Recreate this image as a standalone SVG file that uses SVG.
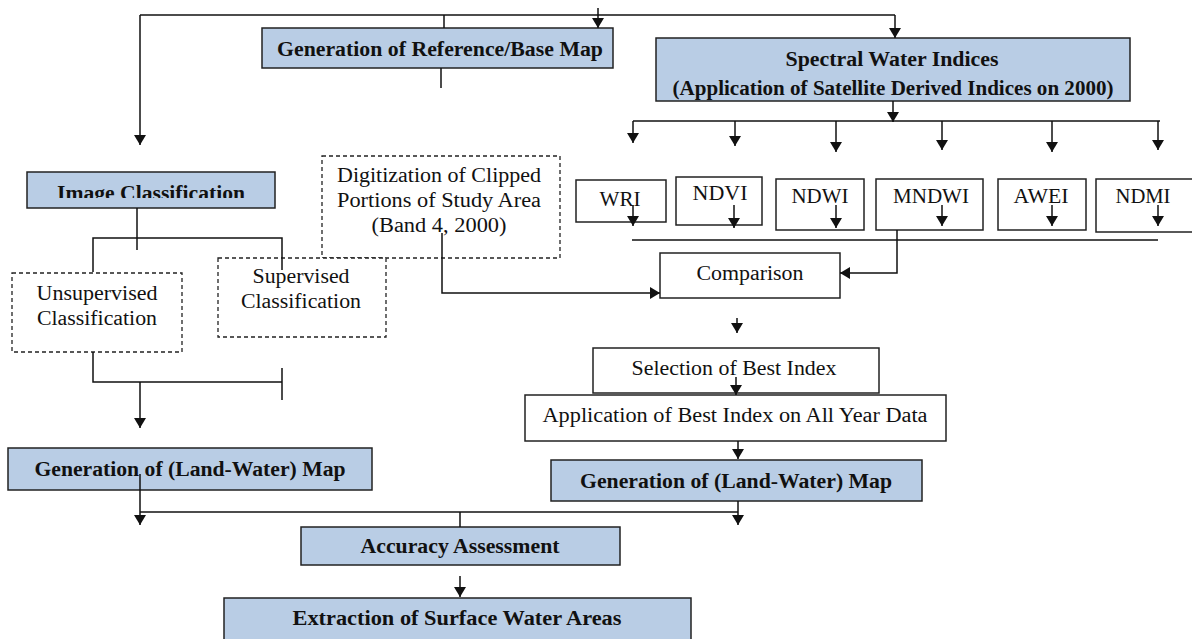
<svg xmlns="http://www.w3.org/2000/svg" width="1192" height="639" viewBox="0 0 1192 639">
<style>
.b{fill:#b9cde5;stroke:#222;stroke-width:1.5}
.w{fill:#fff;stroke:#222;stroke-width:1.5}
.d{fill:#fff;stroke:#222;stroke-width:1.3;stroke-dasharray:4,3}
text{font-family:"Liberation Serif","Times New Roman",Times,serif;fill:#111;text-anchor:middle;font-size:20px}
.tb{font-weight:bold}
.c line,.c polyline{stroke:#111;stroke-width:1.5;fill:none}
.a{marker-end:url(#ah)}
</style>
<defs>
<marker id="ah" markerWidth="10" markerHeight="12" refX="10" refY="6" orient="auto" markerUnits="userSpaceOnUse">
<path d="M0,0 L10,6 L0,12 Z" fill="#111"/>
</marker>
<clipPath id="clipIC"><rect x="27" y="172" width="248" height="26"/></clipPath>
</defs>
<rect width="1192" height="639" fill="#fff"/>

<g id="ref"><rect class="b" x="262" y="28" width="351" height="40"/><text class="tb" x="440" y="56" textLength="326" lengthAdjust="spacingAndGlyphs">Generation of Reference/Base Map</text></g>
<g id="spectral"><rect class="b" x="656" y="38" width="474" height="63"/><text class="tb" x="892" y="66" textLength="213" lengthAdjust="spacingAndGlyphs">Spectral Water Indices</text><text class="tb" x="893" y="95" textLength="441" lengthAdjust="spacingAndGlyphs">(Application of Satellite Derived Indices on 2000)</text></g>
<g id="imgclass"><rect class="b" x="27" y="172" width="248" height="36"/><text class="tb" x="151" y="200" textLength="188" lengthAdjust="spacingAndGlyphs" clip-path="url(#clipIC)">Image Classification</text></g>
<g id="digit"><rect class="d" x="322" y="156" width="238" height="102"/><text x="439" y="182" textLength="204" lengthAdjust="spacingAndGlyphs">Digitization of Clipped</text><text x="439" y="207" textLength="204" lengthAdjust="spacingAndGlyphs">Portions of Study Area</text><text x="439" y="232" textLength="135" lengthAdjust="spacingAndGlyphs">(Band 4, 2000)</text></g>
<g id="unsup"><rect class="d" x="12" y="273" width="170" height="79"/><text x="97" y="300" textLength="121" lengthAdjust="spacingAndGlyphs">Unsupervised</text><text x="97" y="325" textLength="120" lengthAdjust="spacingAndGlyphs">Classification</text></g>
<g id="sup"><rect class="d" x="218" y="258" width="168" height="79"/><text x="301" y="283" textLength="97" lengthAdjust="spacingAndGlyphs">Supervised</text><text x="301" y="308" textLength="120" lengthAdjust="spacingAndGlyphs">Classification</text></g>
<g id="wri"><rect class="w" x="576" y="180" width="90" height="42"/><text x="620" y="206" textLength="41" lengthAdjust="spacingAndGlyphs">WRI</text></g>
<g id="ndvi"><rect class="w" x="676" y="177" width="86" height="48"/><text x="720" y="200" textLength="55" lengthAdjust="spacingAndGlyphs">NDVI</text></g>
<g id="ndwi"><rect class="w" x="776" y="179" width="88" height="51"/><text x="820" y="203" textLength="57" lengthAdjust="spacingAndGlyphs">NDWI</text></g>
<g id="mndwi"><rect class="w" x="876" y="179" width="107" height="51"/><text x="931" y="203" textLength="76" lengthAdjust="spacingAndGlyphs">MNDWI</text></g>
<g id="awei"><rect class="w" x="998" y="179" width="88" height="51"/><text x="1041" y="203" textLength="55" lengthAdjust="spacingAndGlyphs">AWEI</text></g>
<g id="ndmi"><rect class="w" x="1096" y="179" width="98" height="53"/><text x="1143" y="203" textLength="55" lengthAdjust="spacingAndGlyphs">NDMI</text></g>
<g id="comparison"><rect class="w" x="660" y="253" width="180" height="45"/><text x="750" y="280" textLength="107" lengthAdjust="spacingAndGlyphs">Comparison</text></g>
<g id="selection"><rect class="w" x="593" y="348" width="286" height="45"/><text x="734" y="375" textLength="205" lengthAdjust="spacingAndGlyphs">Selection of Best Index</text></g>
<g id="application"><rect class="w" x="525" y="395" width="421" height="46"/><text x="735" y="422" textLength="385" lengthAdjust="spacingAndGlyphs">Application of Best Index on All Year Data</text></g>
<g id="lwmap1"><rect class="b" x="8" y="448" width="364" height="42"/><text class="tb" x="190" y="476" textLength="311" lengthAdjust="spacingAndGlyphs">Generation of (Land-Water) Map</text></g>
<g id="lwmap2"><rect class="b" x="551" y="460" width="371" height="41"/><text class="tb" x="736" y="488" textLength="312" lengthAdjust="spacingAndGlyphs">Generation of (Land-Water) Map</text></g>
<g id="accuracy"><rect class="b" x="301" y="527" width="319" height="38"/><text class="tb" x="460" y="553" textLength="199" lengthAdjust="spacingAndGlyphs">Accuracy Assessment</text></g>
<g id="extraction"><rect class="b" x="224" y="598" width="467" height="45"/><text class="tb" x="457" y="625" textLength="329" lengthAdjust="spacingAndGlyphs">Extraction of Surface Water Areas</text></g>

<g id="connectors" class="c">
<line x1="140" y1="15" x2="895" y2="15"/>
<line class="a" x1="598" y1="8" x2="598" y2="28"/>
<line x1="444" y1="15" x2="444" y2="28"/>
<line x1="441" y1="68" x2="441" y2="88"/>
<line class="a" x1="140" y1="15" x2="140" y2="145"/>
<line class="a" x1="895" y1="15" x2="895" y2="38"/>
<line class="a" x1="893" y1="101" x2="893" y2="122"/>
<line x1="633" y1="121" x2="1160" y2="121"/>
<line class="a" x1="633" y1="121" x2="633" y2="143"/>
<line class="a" x1="735" y1="121" x2="735" y2="146"/>
<line class="a" x1="836" y1="121" x2="836" y2="152"/>
<line class="a" x1="942" y1="121" x2="942" y2="150"/>
<line class="a" x1="1052" y1="121" x2="1052" y2="152"/>
<line class="a" x1="1158" y1="121" x2="1158" y2="150"/>
<line class="a" x1="633" y1="205" x2="633" y2="226"/>
<line class="a" x1="734" y1="205" x2="734" y2="228"/>
<line class="a" x1="836" y1="205" x2="836" y2="228"/>
<line class="a" x1="942" y1="205" x2="942" y2="226"/>
<line class="a" x1="1052" y1="205" x2="1052" y2="226"/>
<line class="a" x1="1158" y1="205" x2="1158" y2="226"/>
<line x1="632" y1="240" x2="1158" y2="240"/>
<polyline class="a" points="897,230 897,273 840,273"/>
<polyline class="a" points="442,233 442,293 660,293"/>
<line class="a" x1="737" y1="318" x2="737" y2="333"/>
<line class="a" x1="736" y1="377" x2="736" y2="395"/>
<line class="a" x1="738" y1="441" x2="738" y2="459"/>
<line x1="137" y1="208" x2="137" y2="250"/>
<polyline points="93,272 93,238 282,238 282,270"/>
<polyline points="93,352 93,382 282,382"/>
<line x1="282" y1="368" x2="282" y2="400"/>
<line class="a" x1="140" y1="382" x2="140" y2="428"/>
<line class="a" x1="140" y1="474" x2="140" y2="525"/>
<line x1="140" y1="512" x2="738" y2="512"/>
<line class="a" x1="738" y1="501" x2="738" y2="525"/>
<line x1="460" y1="512" x2="460" y2="527"/>
<line class="a" x1="460" y1="576" x2="460" y2="597"/>
</g>
</svg>
